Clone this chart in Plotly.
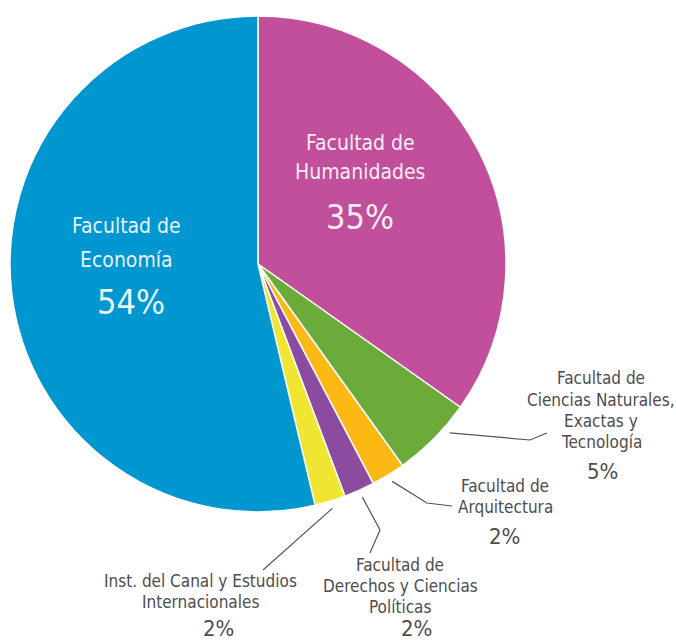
import math
import plotly.graph_objects as go

# ---- data ----
labels = ["Facultad de Humanidades",
          "Facultad de Ciencias Naturales, Exactas y Tecnología",
          "Facultad de Arquitectura",
          "Facultad de Derechos y Ciencias Políticas",
          "Inst. del Canal y Estudios Internacionales",
          "Facultad de Economía"]
values = [34.8, 5.3, 2.2, 2.0, 2.0, 53.7]
pct_text = ["35%", "5%", "2%", "2%", "2%", "54%"]
colors = ["#C24F9B", "#6AAB3A", "#FDB913", "#8B4B9F", "#F0E632", "#0097D0"]

W, H = 676, 642
CX, CY, R = 258, 264, 248
FONT = "DejaVu Sans Condensed, Liberation Sans Narrow, Arial Narrow, sans-serif"
GRAY = "#4d4d4d"


def px(x):
    return x / W


def py(y):
    return 1 - y / H


fig = go.Figure(go.Pie(
    labels=labels, values=values, sort=False, direction="clockwise", rotation=0,
    marker=dict(colors=colors, line=dict(color="white", width=1.5)),
    textinfo="none", hoverinfo="label+percent", showlegend=False,
    domain=dict(x=[px(CX - R), px(CX + R)], y=[py(CY + R), py(CY - R)]),
))

annotations = []


def add_lines(x, ys_lines, size, color):
    for y, t in ys_lines:
        annotations.append(dict(x=px(x), y=py(y), xref="paper", yref="paper",
                                text=t, showarrow=False, xanchor="center", yanchor="middle",
                                font=dict(family=FONT, size=size, color=color)))


# inside labels
WHITE_T = "rgba(255,255,255,0.92)"
add_lines(360, [(143, "Facultad de"), (172, "Humanidades")], 21, WHITE_T)
add_lines(360, [(217, pct_text[0])], 34, WHITE_T)
add_lines(127, [(226, "Facultad de"), (260, "Economía")], 21, WHITE_T)
add_lines(131, [(302, pct_text[5])], 34, WHITE_T)

# outside labels
LS = 17
PS = 22
add_lines(601, [(378, "Facultad de"), (400, "Ciencias Naturales,"), (421, "Exactas y"), (442, "Tecnología")], LS, GRAY)
add_lines(602, [(471, pct_text[1])], PS, GRAY)
add_lines(505, [(486, "Facultad de"), (507, "Arquitectura")], LS, GRAY)
add_lines(504, [(536, pct_text[2])], PS, GRAY)
add_lines(400, [(565, "Facultad de"), (586, "Derechos y Ciencias"), (607, "Políticas")], LS, GRAY)
add_lines(416, [(628, pct_text[3])], PS, GRAY)
add_lines(200, [(581, "Inst. del Canal y Estudios"), (602, "Internacionales")], LS, GRAY)
add_lines(218, [(628, pct_text[4])], PS, GRAY)

# leader lines: start points derived from slice angles
total = sum(values)
cum = []
acc = 0
for v in values:
    cum.append((acc + v / 2) / total)
    acc += v


def edge_point(i, k, dang=0.0):
    ang = 2 * math.pi * cum[i] + dang
    return CX + R * k * math.sin(ang), CY - R * k * math.cos(ang)

leaders = {
    1: (1.03, -0.06, [(530, 440), (547, 433)]),
    2: (1.03, 0.0, [(427, 503), (452, 506)]),
    3: (1.03, 0.0, [(380, 530), (370, 553)]),
    4: (1.03, 0.0, [(263, 570)]),
}
shapes = []
for i, (k, da, pts) in leaders.items():
    sx, sy = edge_point(i, k, da)
    path = f"M {px(sx):.5f} {py(sy):.5f}" + "".join(f" L {px(x):.5f} {py(y):.5f}" for x, y in pts)
    shapes.append(dict(type="path", path=path, xref="paper", yref="paper",
                       line=dict(color="#555555", width=1.2)))

fig.update_layout(width=W, height=H, margin=dict(l=0, r=0, t=0, b=0),
                  paper_bgcolor="white", plot_bgcolor="white",
                  annotations=annotations, shapes=shapes)

fig.write_html("out.html", config={"displayModeBar": False},
               post_script="document.body.style.margin='0';document.body.style.overflow='hidden';")
